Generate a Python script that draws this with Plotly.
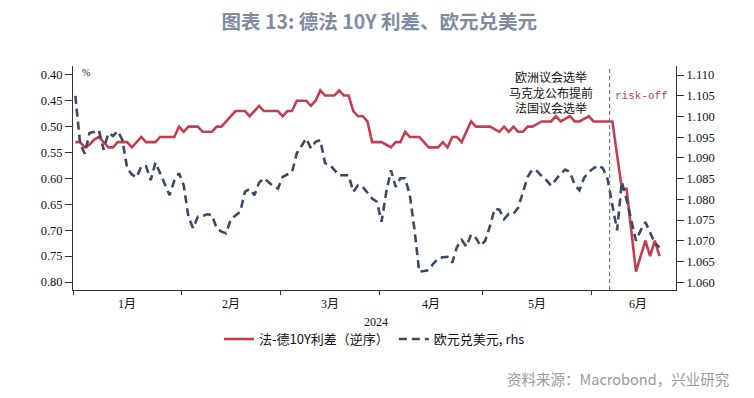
import plotly.graph_objects as go

# ---------------- data (business-day index from 2 Jan 2024) ----------------
spread_fr_de = [
    0.53, 0.53, 0.54, 0.535, 0.525, 0.52, 0.53, 0.54, 0.54, 0.53,
    0.53, 0.53, 0.54, 0.53, 0.52, 0.53, 0.53, 0.53, 0.52, 0.52,
    0.52, 0.52, 0.50, 0.51, 0.50, 0.50, 0.50, 0.51, 0.51, 0.51,
    0.50, 0.50, 0.49, 0.48, 0.47, 0.47, 0.47, 0.48, 0.47, 0.46,
    0.47, 0.47, 0.47, 0.47, 0.48, 0.47, 0.47, 0.45, 0.45, 0.45,
    0.46, 0.45, 0.43, 0.44, 0.44, 0.44, 0.43, 0.44, 0.44, 0.47,
    0.48, 0.48, 0.49, 0.53, 0.53, 0.53, 0.535, 0.54, 0.53, 0.53,
    0.51, 0.52, 0.52, 0.52, 0.53, 0.54, 0.54, 0.54, 0.53, 0.54,
    0.52, 0.52, 0.53, 0.51, 0.49, 0.50, 0.50, 0.50, 0.50, 0.505,
    0.51, 0.50, 0.51, 0.50, 0.51, 0.51, 0.50, 0.50, 0.495, 0.49,
    0.49, 0.49, 0.48, 0.49, 0.485, 0.48, 0.49, 0.49, 0.485, 0.48,
    0.49, 0.49, 0.49, 0.49, 0.49, 0.555, 0.62, 0.62, 0.70, 0.78,
    0.75, 0.72, 0.75, 0.72, 0.75,
]

eurusd = [
    1.1050, 1.0935, 1.0910, 1.0960, 1.0963, 1.0967, 1.0920, 1.0960, 1.0953, 1.0965,
    1.0943, 1.0875, 1.0860, 1.0853, 1.0880, 1.0880, 1.0846, 1.0889, 1.0863, 1.0835,
    1.0810, 1.0845, 1.0863, 1.0834, 1.0758, 1.0730, 1.0758, 1.0760, 1.0764, 1.0762,
    1.0730, 1.0722, 1.0718, 1.0752, 1.0760, 1.0770, 1.0818, 1.0825, 1.0810, 1.0840,
    1.0851, 1.0842, 1.0832, 1.0826, 1.0854, 1.0860, 1.0866, 1.0911, 1.0930, 1.0947,
    1.0923, 1.0939, 1.0943, 1.0887, 1.0884, 1.0870, 1.0858, 1.0858, 1.0858, 1.0818,
    1.0834, 1.0830, 1.0815, 1.0802, 1.0794, 1.0746, 1.0818, 1.0870, 1.0830, 1.0851,
    1.0851, 1.0810, 1.0726, 1.0625, 1.0627, 1.0629, 1.0645, 1.0657, 1.0660, 1.0661,
    1.0647, 1.0685, 1.0702, 1.0686, 1.0715, 1.0707, 1.0688, 1.0700, 1.0735, 1.0777,
    1.0775, 1.0752, 1.0765, 1.0765, 1.0780, 1.0815, 1.0854, 1.0872, 1.0868, 1.0856,
    1.0846, 1.0833, 1.0848, 1.0862, 1.0872, 1.0866, 1.0835, 1.0822, 1.0852, 1.0866,
    1.0875, 1.0882, 1.0875, 1.0848, 1.0785, 1.0725, 1.0842, 1.0800, 1.0750, 1.0700,
    1.0725, 1.0745, 1.0720, 1.0695, 1.0684,
]

month_labels = ["1月", "2月", "3月", "4月", "5月", "6月"]
month_starts = [-0.5, 22.5, 43.5, 64.5, 86.5, 109.5, 129.5]  # business-day boundaries
x_range = [-0.5, 127.5]
year_label = "2024"
event_index = 113.4  # EU parliament election / Macron announcement
left_ticks = [0.40, 0.45, 0.50, 0.55, 0.60, 0.65, 0.70, 0.75, 0.80]
right_ticks = [1.060, 1.065, 1.070, 1.075, 1.080, 1.085, 1.090, 1.095, 1.100, 1.105, 1.110]

RED = "#C43E50"
NAVY = "#3C4966"
AXIS = "#333333"
SERIF = "Liberation Serif, Noto Sans CJK SC"
CJK = "Noto Sans CJK SC"

x_idx = list(range(len(spread_fr_de)))
month_mids = [(month_starts[k] + month_starts[k + 1]) / 2 for k in range(len(month_labels))]

fig = go.Figure()
fig.add_trace(go.Scatter(
    x=x_idx, y=spread_fr_de, mode="lines", name="法-德10Y利差（逆序）",
    line=dict(color=RED, width=2.6), yaxis="y",
))
fig.add_trace(go.Scatter(
    x=list(range(len(eurusd))), y=eurusd, mode="lines", name="欧元兑美元, rhs",
    line=dict(color=NAVY, width=2.6, dash="8px,5px"), yaxis="y2",
))

fig.add_shape(type="line", xref="x", yref="paper", x0=event_index, x1=event_index,
              y0=0, y1=1, line=dict(color="#777777", width=1.2, dash="4px,3px"))

annotations = [
    dict(text=m, x=xm, xref="x", y=-0.062, yref="paper", showarrow=False,
         font=dict(family=SERIF, size=12, color="#111111"), xanchor="center", yanchor="middle")
    for m, xm in zip(month_labels, month_mids)
]
annotations += [
    dict(text=year_label, x=0.502, xref="paper", y=-0.143, yref="paper", showarrow=False,
         font=dict(family=SERIF, size=12, color="#111111"), xanchor="center", yanchor="middle"),
    dict(text="%", x=0.012, xref="paper", y=0.972, yref="paper", showarrow=False,
         font=dict(family=SERIF, size=10, color="#222222"), xanchor="left", yanchor="middle"),
    dict(text="欧洲议会选举<br>马克龙公布提前<br>法国议会选举", x=101.0, xref="x", y=0.882,
         yref="paper", showarrow=False, align="center",
         font=dict(family=CJK, size=12, color="#111111"), xanchor="center", yanchor="middle"),
    dict(text="risk-off", x=120.2, xref="x", y=0.867, yref="paper", showarrow=False,
         font=dict(family="Liberation Mono, DejaVu Sans Mono", size=11, color="#B0455E"),
         xanchor="center", yanchor="middle"),
    dict(text="资料来源：Macrobond，兴业研究", x=1.091, xref="paper", y=-0.393, yref="paper",
         showarrow=False, font=dict(family=CJK, size=14.5, color="#9A9A9A"),
         xanchor="right", yanchor="middle"),
]

fig.update_layout(
    width=754, height=398,
    margin=dict(l=73, r=78, t=66, b=108),
    paper_bgcolor="white", plot_bgcolor="white",
    title=dict(text="<b>图表 13: 德法 10Y 利差、欧元兑美元</b>", x=0.503, xanchor="center",
               y=0.945, yanchor="middle",
               font=dict(family=CJK, size=19.5, color="#7D8CA3")),
    showlegend=True,
    legend=dict(orientation="h", x=0.5, xanchor="center", y=-0.219, yanchor="middle",
                font=dict(family=CJK, size=13, color="#111111"), bgcolor="rgba(0,0,0,0)",
                itemwidth=30, tracegroupgap=0),
    xaxis=dict(range=x_range, showgrid=False, zeroline=False, showline=True,
               linecolor=AXIS, linewidth=1, ticks="outside", ticklen=4, tickcolor=AXIS,
               tickmode="array", tickvals=month_starts[:-1],
               ticktext=["" for _ in month_starts[:-1]]),
    yaxis=dict(range=[0.8154, 0.383], showgrid=False, zeroline=False, showline=True,
               linecolor=AXIS, linewidth=1, ticks="outside", ticklen=7, tickcolor=AXIS,
               tickmode="array", tickvals=left_ticks,
               ticktext=[f"{v:.2f}" for v in left_ticks],
               tickfont=dict(family=SERIF, size=12.5, color="#111111")),
    yaxis2=dict(range=[1.0581, 1.1122], overlaying="y", side="right", showgrid=False,
                zeroline=False, showline=True, linecolor=AXIS, linewidth=1,
                ticks="outside", ticklen=7, tickcolor=AXIS, tickmode="array",
                tickvals=right_ticks, ticktext=[f"{v:.3f}" for v in right_ticks],
                tickfont=dict(family=SERIF, size=12.5, color="#111111")),
    annotations=annotations,
)

fig.write_html("out.html", config={"displayModeBar": False})

# remove the default 8px page margin so the figure sits at the window origin
with open("out.html", encoding="utf-8") as f:
    html = f.read()
html = html.replace("<head>", "<head><style>html,body{margin:0;padding:0;}</style>", 1)
with open("out.html", "w", encoding="utf-8") as f:
    f.write(html)
